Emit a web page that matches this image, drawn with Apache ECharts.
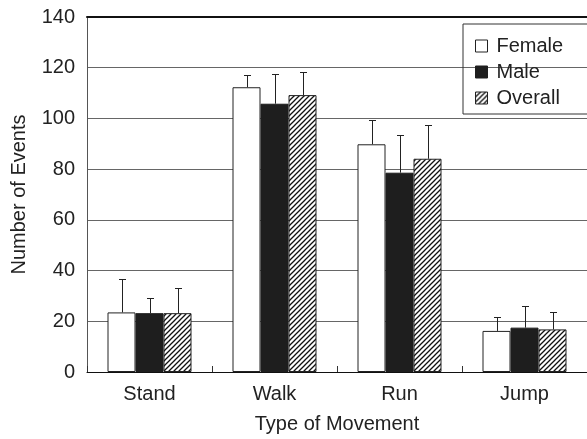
<!DOCTYPE html>
<html>
<head>
<meta charset="utf-8">
<script src="https://cdn.jsdelivr.net/npm/echarts@6/dist/echarts.min.js"></script>
<style>
html,body{margin:0;padding:0;background:#fff;}
#chart{width:587px;height:439px;}
</style>
</head>
<body>
<div id="chart"></div>
<script>
const categories = ['Stand', 'Walk', 'Run', 'Jump'];
const female = [23.5, 112.3, 89.8, 16.2];
const male = [23.2, 105.8, 78.6, 17.5];
const overall = [23.2, 109.2, 84.1, 16.8];
const femaleSD = [13.0, 4.7, 9.4, 5.5];
const maleSD = [5.8, 11.8, 14.7, 8.4];
const overallSD = [9.8, 9.1, 13.2, 7.0];
const yTicks = [0, 20, 40, 60, 80, 100, 120, 140];

const FONT = 'Liberation Sans, Arial, sans-serif';
const TXT = '#222';
const BAR_W = 28;

function hatch() {
  const n = 5;
  const c = document.createElement('canvas');
  c.width = n; c.height = n;
  const g = c.getContext('2d');
  g.fillStyle = '#fff';
  g.fillRect(0, 0, n, n);
  g.strokeStyle = '#111';
  g.lineWidth = 1.3;
  g.beginPath();
  g.moveTo(-1, n + 1); g.lineTo(n + 1, -1);
  g.moveTo(-1, 1); g.lineTo(1, -1);
  g.moveTo(n - 1, n + 1); g.lineTo(n + 1, n - 1);
  g.stroke();
  return { image: c, repeat: 'repeat' };
}
const hatchFill = hatch();

const styles = [
  { color: '#fff', borderColor: '#222', borderWidth: 1 },
  { color: '#1e1e1e', borderColor: '#1e1e1e', borderWidth: 1 },
  { color: hatchFill, borderColor: '#222', borderWidth: 1 }
];
const names = ['Female', 'Male', 'Overall'];
const means = [female, male, overall];
const sds = [femaleSD, maleSD, overallSD];

const series = [];
means.forEach((vals, i) => {
  series.push({
    name: names[i], type: 'bar', data: vals, barWidth: BAR_W, barGap: '0%',
    itemStyle: styles[i], z: 2
  });
});
means.forEach((vals, i) => {
  const off = (i - 1) * BAR_W;
  series.push({
    type: 'custom', z: 5, silent: true,
    data: vals.map((v, k) => [k, v + sds[i][k], v]),
    encode: { x: 0, y: 1 },
    renderItem: function (params, api) {
      const k = api.value(0);
      const pTop = api.coord([k, api.value(1)]);
      const pBase = api.coord([k, api.value(2)]);
      const x = Math.round(pTop[0] + off) + 0.5;
      const yT = Math.round(pTop[1]) + 0.5;
      const yB = pBase[1];
      const st = { stroke: '#222', lineWidth: 1 };
      return {
        type: 'group',
        children: [
          { type: 'line', shape: { x1: x, y1: yB, x2: x, y2: yT }, style: st },
          { type: 'line', shape: { x1: x - 3.5, y1: yT, x2: x + 3.5, y2: yT }, style: st }
        ]
      };
    }
  });
});

const chart = echarts.init(document.getElementById('chart'));
chart.setOption({
  animation: false,
  backgroundColor: '#fff',
  textStyle: { fontFamily: FONT },
  grid: { left: 87, right: -3, top: 17, bottom: 67 },
  legend: {
    orient: 'vertical', left: 463, top: 24,
    padding: [12, 30, 6, 12], itemGap: 6,
    itemWidth: 12, itemHeight: 12, icon: 'rect',
    borderColor: '#333', borderWidth: 1,
    textStyle: { fontSize: 20, color: TXT, fontFamily: FONT, padding: [0, 0, 0, 4] },
    data: names.map((n, i) => ({ name: n, itemStyle: styles[i] }))
  },
  xAxis: [{
    type: 'category', data: categories, boundaryGap: true,
    axisLine: { lineStyle: { color: '#111', width: 1 } },
    axisTick: { show: true, inside: true, length: 6, lineStyle: { color: '#333' } },
    axisLabel: { fontSize: 20, color: TXT, margin: 12, fontFamily: FONT },
    name: 'Type of Movement', nameLocation: 'middle', nameGap: 42,
    nameTextStyle: { fontSize: 20, color: TXT, fontFamily: FONT }
  }, {
    type: 'category', position: 'top', data: categories,
    axisLine: { lineStyle: { color: '#111', width: 2 } },
    axisTick: { show: false }, axisLabel: { show: false }
  }],
  yAxis: {
    type: 'value', min: yTicks[0], max: yTicks[yTicks.length - 1], interval: 20,
    axisLine: { show: true, lineStyle: { color: '#555', width: 1 } },
    axisTick: { show: false },
    axisLabel: { fontSize: 20, color: TXT, margin: 12, fontFamily: FONT },
    splitLine: { show: true, lineStyle: { color: '#666', width: 1 } },
    name: 'Number of Events', nameLocation: 'middle', nameGap: 58, nameRotate: 90,
    nameTextStyle: { fontSize: 20, color: TXT, fontFamily: FONT }
  },
  series: series
});
</script>
</body>
</html>
